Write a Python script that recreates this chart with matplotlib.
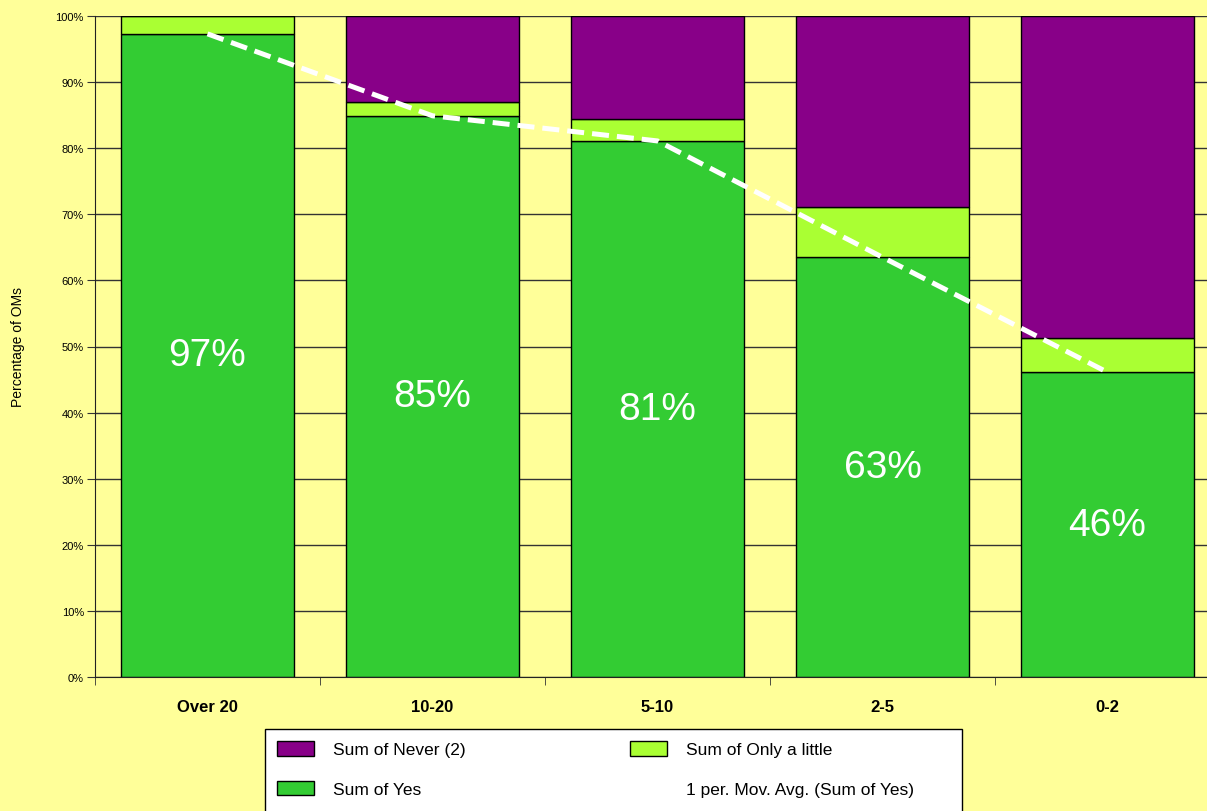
import matplotlib.pyplot as plt
from matplotlib.patches import Rectangle
import numpy as np

plt.rcParams['font.family'] = ['Liberation Sans', 'DejaVu Sans']

categories = ["Over 20", "10-20", "5-10", "2-5", "0-2"]
yes = [97.3, 84.9, 81.1, 63.5, 46.1]
only_little = [2.7, 2.1, 3.3, 7.6, 5.2]
never = [0.0, 13.0, 15.6, 28.9, 48.7]
yes_labels = ["97%", "85%", "81%", "63%", "46%"]

BG = "#FFFF99"
GREEN = "#33CC33"
LIME = "#AAFF33"
PURPLE = "#880088"

x = np.arange(len(categories))
width = 0.77

fig = plt.figure(figsize=(12.07, 8.12), dpi=100, facecolor=BG)
ax = fig.add_axes([95 / 1207, 1 - 678 / 812, 1125 / 1207, 661 / 812])
ax.set_facecolor(BG)

b_yes = ax.bar(x, yes, width, color=GREEN, edgecolor="black", linewidth=1, zorder=2)
b_ol = ax.bar(x, only_little, width, bottom=yes, color=LIME, edgecolor="black",
              linewidth=1, zorder=2)
bottom_never = np.array(yes) + np.array(only_little)
b_nv = ax.bar(x, never, width, bottom=bottom_never, color=PURPLE, edgecolor="black",
              linewidth=1, zorder=2)

line, = ax.plot(x, yes, color="white", linewidth=3.6, dashes=(3.4, 1.6), zorder=3)

# percentage labels in the middle of the green bars
for xi, v, lab in zip(x, yes, yes_labels):
    ax.text(xi, v / 2, lab, ha="center", va="center", color="white", fontsize=28, zorder=4)

ax.set_xlim(-0.5, 4.5)
ax.set_ylim(0, 100)
ax.set_yticks(np.arange(0, 101, 10))
ax.set_yticklabels([f"{t}%" for t in range(0, 101, 10)], fontsize=8)
ax.set_xticks(x)
ax.set_xticklabels(categories, fontsize=12, fontweight="bold")
ax.set_xticks(np.arange(-0.5, 4.6, 1), minor=True)
ax.tick_params(axis="x", which="major", length=0, pad=16)
ax.tick_params(axis="x", which="minor", length=6, direction="out", color="#333333")
ax.tick_params(axis="y", length=6, direction="out", color="#333333", pad=2)
ax.set_ylabel("Percentage of OMs", fontsize=10, labelpad=22)

ax.grid(axis="y", color="#333333", linewidth=1, zorder=0)
ax.set_axisbelow(True)
for s in ["top", "right"]:
    ax.spines[s].set_visible(False)
ax.spines["left"].set_color("#222222")
ax.spines["bottom"].set_color("#222222")

# legend box (runs off the bottom edge like the original)
fig.patches.append(Rectangle((265 / 1207, -0.01), 697 / 1207, (812 - 730) / 812 + 0.01,
                             transform=fig.transFigure, facecolor="white",
                             edgecolor="black", linewidth=1, zorder=1))

handles = [b_nv, b_yes, b_ol, line]
labels = ["Sum of Never (2)", "Sum of Yes", "Sum of Only a little",
          "1 per. Mov. Avg. (Sum of Yes)"]
leg = fig.legend(handles, labels, ncol=2, loc="upper left",
                 bbox_to_anchor=(265 / 1207, 1 - 730 / 812),
                 fontsize=12.5, frameon=False,
                 handlelength=2.1, handleheight=0.9, handletextpad=1.1,
                 borderaxespad=0, borderpad=0.7, labelspacing=1.35,
                 columnspacing=9.5)
leg.set_zorder(2)

fig.savefig("out.png", dpi=100, facecolor=BG)
